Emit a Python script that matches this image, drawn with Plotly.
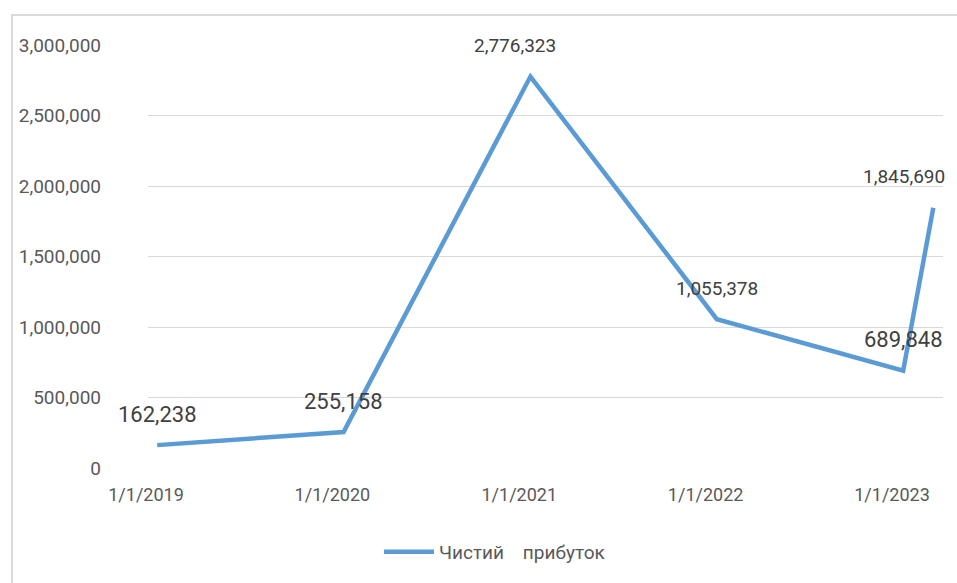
import plotly.graph_objects as go

dates = ["2019-01-01", "2020-01-01", "2021-01-01", "2022-01-01", "2023-01-01", "2023-03-01"]
values = [162238, 255158, 2776323, 1055378, 689848, 1845690]
label_xshift = [0, 0, -15, 0, 0, -29]
label_size = [22, 22, 19, 19, 22, 19]
series_name = "Чистий    прибуток"
tick_dates = ["2019-01-01", "2020-01-01", "2021-01-01", "2022-01-01", "2023-01-01"]
tick_text = ["1/1/2019", "1/1/2020", "1/1/2021", "1/1/2022", "1/1/2023"]
y_ticks = [0, 500000, 1000000, 1500000, 2000000, 2500000, 3000000]

W, H = 957, 583
L, R, T, B = 148, 14, 45, 115
FONT = "Roboto, sans-serif"
GREY = "#595959"

fig = go.Figure()
fig.add_trace(go.Scatter(
    x=dates, y=values, mode="lines", name=series_name,
    line=dict(color="#5B9BD5", width=4.5),
))

for d, v, xs, fs in zip(dates, values, label_xshift, label_size):
    fig.add_annotation(x=d, y=v, text=f"{v:,}", showarrow=False,
                       yshift=31, xshift=xs,
                       font=dict(family=FONT, size=fs, color="#404040"))

pw = W - L - R
ph = H - T - B
def px_x(p):
    return (p - L) / pw
def px_y(p):
    return (H - B - p) / ph

fig.add_shape(type="rect", xref="paper", yref="paper",
              x0=px_x(12), x1=px_x(990), y0=px_y(15), y1=px_y(620),
              line=dict(color="#D9D9D9", width=2), layer="below")

# shift x tick labels slightly left of their date, as in the reference
shifted_text = [t + "\u00a0" * 5 for t in tick_text]

fig.update_layout(
    width=W, height=H,
    margin=dict(l=L, r=R, t=T, b=B, autoexpand=False),
    paper_bgcolor="white", plot_bgcolor="white",
    font=dict(family=FONT, size=18, color=GREY),
    showlegend=True,
    legend=dict(orientation="h", x=px_x(495), xanchor="center", y=px_y(552), yanchor="middle",
                font=dict(family=FONT, size=19, color=GREY), itemwidth=50),
    xaxis=dict(type="date", range=["2018-12-14", "2023-03-20"],
               tickvals=tick_dates, ticktext=shifted_text, automargin=False,
               showgrid=False, showline=False, zeroline=False,
               ticks="", ticklabelstandoff=14,
               tickfont=dict(family=FONT, size=18, color=GREY)),
    yaxis=dict(range=[0, 3000000], tickvals=y_ticks, tickformat=",", automargin=False,
               showgrid=True, gridcolor="#D9D9D9", gridwidth=1,
               zeroline=False, showline=False, ticks="",
               ticklabelstandoff=46,
               tickfont=dict(family=FONT, size=19, color=GREY)),
)

fig.write_html("out.html")
